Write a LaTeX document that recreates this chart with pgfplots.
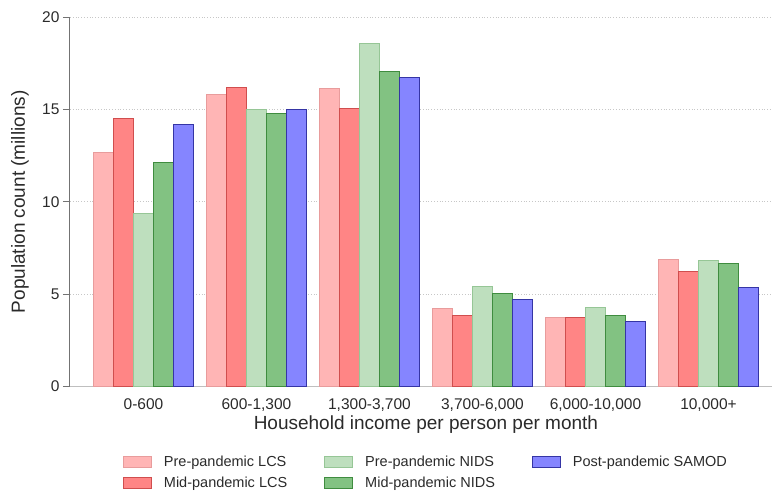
\documentclass[border=0pt]{standalone}
\usepackage{pgfplots}
\pgfplotsset{compat=1.18}
\usepackage{fontspec}
\setmainfont{Liberation Sans}
\definecolor{preLCSf}{HTML}{FFB5B5}
\definecolor{preLCSd}{HTML}{E89C9C}
\definecolor{midLCSf}{HTML}{FF8585}
\definecolor{midLCSd}{HTML}{D04E4E}
\definecolor{preNIDSf}{HTML}{BEDFBE}
\definecolor{preNIDSd}{HTML}{96C696}
\definecolor{midNIDSf}{HTML}{82C282}
\definecolor{midNIDSd}{HTML}{3F8C3F}
\definecolor{samodf}{HTML}{8585FF}
\definecolor{samodd}{HTML}{3535A5}
\definecolor{txt}{HTML}{2A2A2A}
\begin{document}
\begin{tikzpicture}
\path[use as bounding box] (-70pt,-111.5pt) rectangle (704pt,386.5pt);
\begin{axis}[
  at={(0pt,0pt)}, anchor=south west,
  scale only axis,
  width=702pt, height=369.5pt,
  xmin=-0.65, xmax=5.562,
  ymin=0, ymax=20,
  ybar=0pt, bar width=0.177,
  axis x line*=bottom, axis y line*=left,
  x axis line style={draw=black!25, line width=0.8pt, -},
  y axis line style={draw=black!55, line width=1pt, -},
  xtick={0,1,2,3,4,5},
  xticklabels={{0-600},{600-1,300},{1,300-3,700},{3,700-6,000},{6,000-10,000},{10,000+}},
  x tick style={draw=none},
  ytick={0,5,10,15,20},
  y tick style={draw=black!55, line width=1pt},
  tick align=outside,
  major tick length=7pt,
  ymajorgrids,
  y grid style={draw=black!22, line width=0.8pt, dotted},
  /pgf/number format/assume math mode=true,
  ticklabel style={font=\fontsize{15.5}{18}\selectfont, text=txt},
  xticklabel style={yshift=-2pt},
  xlabel={Household income per person per month},
  ylabel={Population count (millions)},
  every axis x label/.style={at={(axis description cs:0.507,-0.104)}, anchor=center, font=\fontsize{19}{22}\selectfont, text=txt},
  every axis y label/.style={at={(axis description cs:-0.0712,0.5)}, anchor=center, rotate=90, font=\fontsize{19}{22}\selectfont, text=txt},
  transpose legend,
  legend columns=2,
  legend style={at={(axis description cs:0.507,-0.178)}, anchor=north, draw=none, fill=none,
    font=\fontsize{14.5}{17}\selectfont, text=txt, row sep=5pt,
    cells={anchor=west},
    /tikz/every odd column/.append style={column sep=10pt},
    /tikz/every even column/.append style={column sep=35pt}},
  mybar/.style={line width=1pt, legend image code/.code={\draw[##1, line width=1pt] (0pt,-5.5pt) rectangle (28pt,5.5pt);}},
]
\addplot[mybar, fill=preLCSf, draw=preLCSd] coordinates {(0,12.67) (1,15.8) (2,16.12) (3,4.24) (4,3.75) (5,6.86)};
\addlegendentry{Pre-pandemic LCS}
\addplot[mybar, fill=midLCSf, draw=midLCSd] coordinates {(0,14.5) (1,16.2) (2,15.04) (3,3.82) (4,3.75) (5,6.22)};
\addlegendentry{Mid-pandemic LCS}
\addplot[mybar, fill=preNIDSf, draw=preNIDSd] coordinates {(0,9.39) (1,14.99) (2,18.55) (3,5.41) (4,4.29) (5,6.82)};
\addlegendentry{Pre-pandemic NIDS}
\addplot[mybar, fill=midNIDSf, draw=midNIDSd] coordinates {(0,12.1) (1,14.75) (2,17.06) (3,5.05) (4,3.82) (5,6.64)};
\addlegendentry{Mid-pandemic NIDS}
\addplot[mybar, fill=samodf, draw=samodd] coordinates {(0,14.2) (1,15.0) (2,16.74) (3,4.72) (4,3.5) (5,5.34)};
\addlegendentry{Post-pandemic SAMOD}
\end{axis}
\end{tikzpicture}
\end{document}
